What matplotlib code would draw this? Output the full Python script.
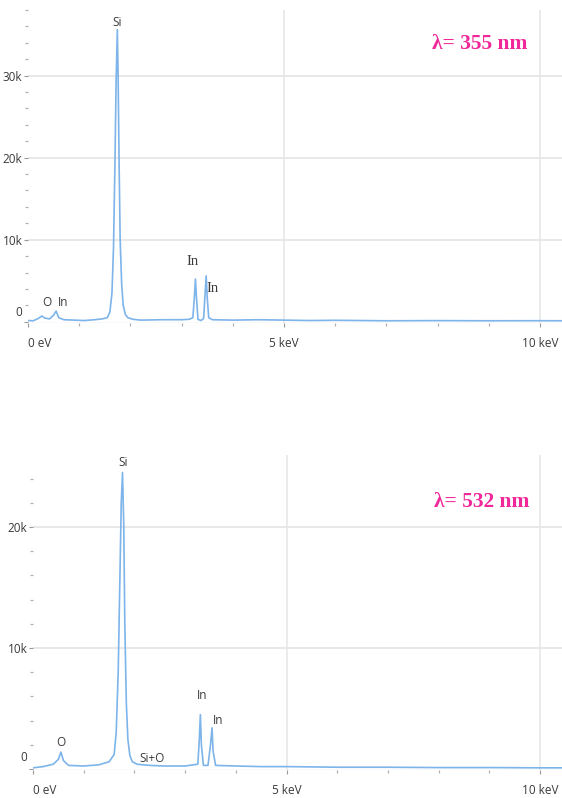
import matplotlib
matplotlib.use("Agg")
import matplotlib.pyplot as plt
from matplotlib.ticker import MultipleLocator, FixedLocator, NullFormatter

# EDS spectra (energy in keV, counts) for two laser wavelengths
energy_355 = [0.00, 0.10, 0.20, 0.27, 0.33, 0.42, 0.50, 0.55, 0.60, 0.70, 0.90,
              1.10, 1.30, 1.45, 1.55, 1.60, 1.64, 1.67, 1.70, 1.72, 1.745, 1.76,
              1.78, 1.80, 1.83, 1.86, 1.90, 1.95, 2.05, 2.20, 2.60, 3.00, 3.15, 3.22,
              3.25, 3.27, 3.29, 3.32, 3.38, 3.43, 3.46, 3.48, 3.50, 3.53, 3.60,
              4.00, 4.50, 5.00, 5.50, 6.00, 6.50, 7.00, 8.00, 9.00, 10.00, 10.45]
counts_355 = [150, 120, 400, 700, 450, 350, 800, 1300, 500, 250, 200,
              150, 250, 350, 500, 1200, 3500, 9000, 20000, 29000, 35600, 30000,
              19000, 10000, 4500, 2000, 900, 500, 300, 200, 250, 250, 300, 500,
              3000, 5200, 3000, 300, 150, 400, 3500, 5600, 3000, 500, 250,
              200, 250, 200, 150, 180, 150, 120, 140, 120, 130, 120]

energy_532 = [0.00, 0.20, 0.40, 0.50, 0.55, 0.60, 0.70, 1.00, 1.30, 1.50, 1.60,
              1.64, 1.68, 1.71, 1.74, 1.765, 1.79, 1.81, 1.84, 1.87, 1.91, 1.96,
              2.05, 2.30, 2.60, 3.00, 3.25, 3.28, 3.30, 3.32, 3.36, 3.45, 3.50, 3.53,
              3.55, 3.60, 4.00, 4.50, 5.00, 6.00, 7.00, 8.00, 9.00, 10.00, 10.45]
counts_532 = [100, 200, 400, 800, 1400, 700, 300, 250, 350, 600, 1200,
              3000, 8000, 15000, 22000, 24500, 20000, 12000, 5500, 2500, 1100, 600,
              400, 300, 250, 250, 400, 2500, 4500, 2000, 300, 300, 2000, 3400,
              1500, 300, 250, 200, 200, 150, 150, 120, 120, 100, 100]

# peak labels: text, energy (keV), counts, font style
labels_355 = [("Si", 1.74, 36500, "sans"), ("O", 0.37, 2300, "sans"),
              ("In", 0.68, 2300, "sans"), ("In", 3.22, 7300, "serif"),
              ("In", 3.61, 4100, "serif")]
labels_532 = [("Si", 1.775, 25300, "sans"), ("O", 0.55, 2200, "sans"),
              ("Si+O", 2.35, 900, "sans"), ("In", 3.33, 6100, "sans"),
              ("In", 3.65, 4000, "sans")]

title_355 = "λ= 355 nm"
title_532 = "λ= 532 nm"

W, H = 562, 798
fig = plt.figure(figsize=(W / 100, H / 100), dpi=100)

LINE = "#7db4ea"
GRID = "#e6e6e6"
TXT = "#3a3a3a"
PINK = "#f0289a"
SANS = ["Open Sans", "DejaVu Sans"]
SERIF = ["Liberation Serif", "DejaVu Serif"]


def panel(rect_px, energy, counts, ylim, ymajor, labels, title, title_pos, zero_off):
    x0, y_top, x1, y_bot = rect_px
    ax = fig.add_axes([x0 / W, 1 - y_bot / H, (x1 - x0) / W, (y_bot - y_top) / H])
    ax.plot(energy, counts, color=LINE, lw=1.2, zorder=3)
    ax.set_xlim(0, 10.43)
    ax.set_ylim(*ylim)
    for s in ax.spines.values():
        s.set_visible(False)
    ax.axhline(ylim[0], color="#dfe6ee", lw=1.0, zorder=1)

    ax.xaxis.set_major_locator(FixedLocator([0, 5, 10]))
    ax.xaxis.set_minor_locator(MultipleLocator(1))
    ax.set_xticklabels(["0 eV", "5 keV", "10 keV"])
    ax.get_xticklabels()[0].set_ha("left")
    ax.yaxis.set_major_locator(FixedLocator(ymajor))
    ax.yaxis.set_minor_locator(MultipleLocator(2000))
    ylabels = [""] + [f"{int(v / 1000)}k" for v in ymajor[1:]]
    ax.set_yticklabels(ylabels)

    ax.tick_params(axis="both", which="major", length=3, width=0.8, color="#999999",
                   labelsize=8.5, labelcolor=TXT)
    ax.tick_params(axis="both", which="minor", length=2, width=0.9, color="#b0b0b0")
    ax.tick_params(axis="x", which="major", pad=7)
    ax.tick_params(axis="y", which="major", pad=1)
    for lab in ax.get_xticklabels() + ax.get_yticklabels():
        lab.set_fontfamily(SANS)
    # zero label sits a little above the baseline
    ax.annotate("0", xy=(0, 0), xycoords=("axes fraction", "data"),
                xytext=(-4, zero_off), textcoords="offset points",
                ha="right", va="center", fontsize=8.5, family=SANS, color=TXT)

    for v in ymajor[1:]:
        ax.axhline(v, color=GRID, lw=1.3, zorder=0)
    for v in [5, 10]:
        ax.axvline(v, color=GRID, lw=1.1, zorder=0)

    for text, ex, cy, style in labels:
        if style == "serif":
            ax.text(ex, cy, text, ha="center", va="center", fontsize=10.5,
                    family=SERIF, color=TXT, zorder=4)
        else:
            ax.text(ex, cy, text, ha="center", va="center", fontsize=8.5,
                    family=SANS, color=TXT, zorder=4)

    ax.text(title_pos[0], title_pos[1], title, ha="center", va="center",
            fontsize=15.5, fontweight="bold", family=SERIF, color=PINK)
    return ax


panel((28, 10, 562, 323), energy_355, counts_355, (-150, 38000),
      [0, 10000, 20000, 30000], labels_355, title_355, (8.83, 33800), 6.5)
panel((33, 455, 562, 770), energy_532, counts_532, (-80, 25950),
      [0, 10000, 20000], labels_532, title_532, (8.84, 22100), 8)

fig.savefig("out.png", dpi=100, facecolor="white")
